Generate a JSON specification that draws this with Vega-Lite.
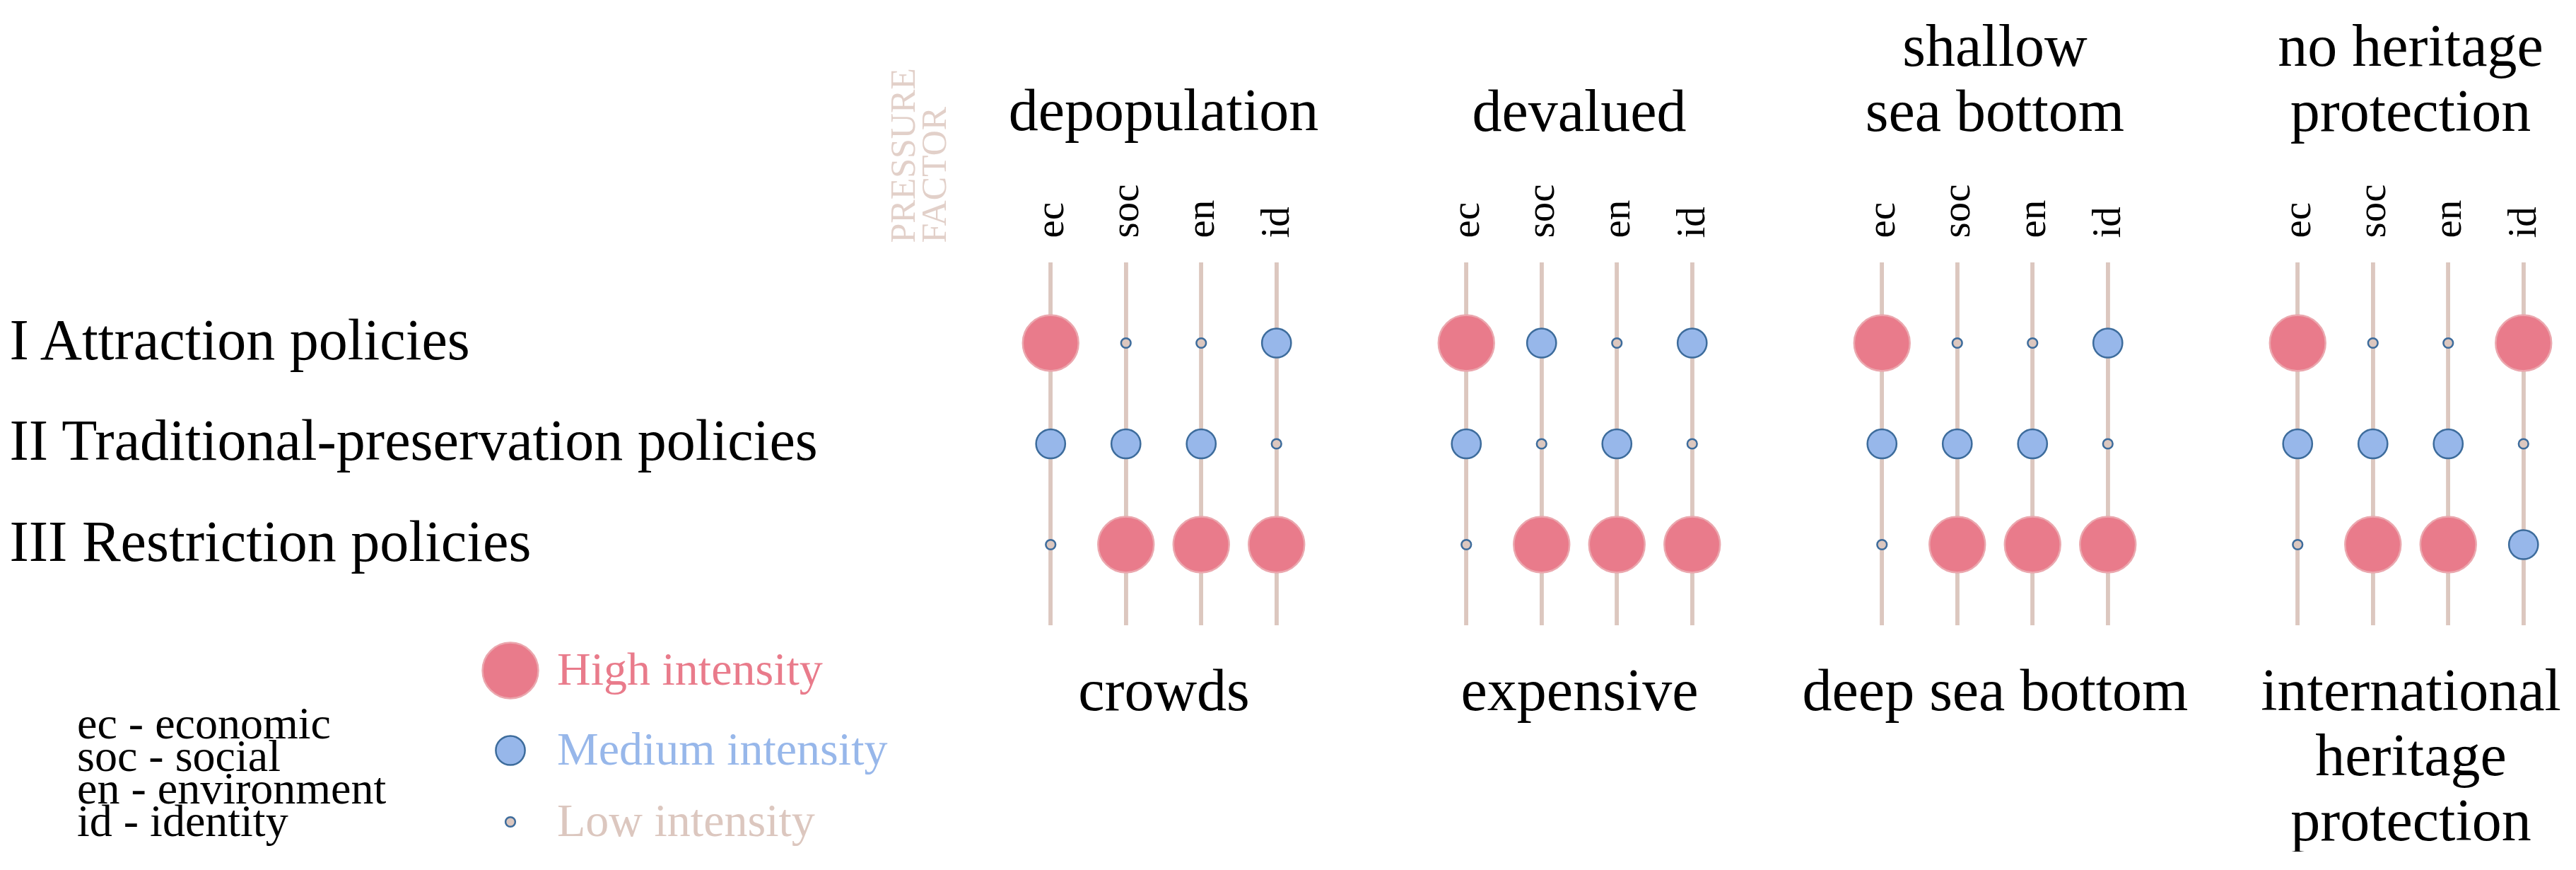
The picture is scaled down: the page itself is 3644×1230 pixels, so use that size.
{
  "$schema": "https://vega.github.io/schema/vega-lite/v6.json",
  "padding": {"left": 13, "top": 24, "right": 0, "bottom": 0},
  "background": "white",
  "config": {
    "view": {"stroke": null},
    "font": "Liberation Serif",
    "axis": {"grid": false, "ticks": false, "tickSize": 0, "domain": false, "labelFont": "Liberation Serif", "titleFont": "Liberation Serif", "labelColor": "#000000", "titleColor": "#000000", "titleFontWeight": "normal", "labelOverlap": false},
    "title": {"font": "Liberation Serif", "fontSize": 84, "fontWeight": "normal", "color": "#000000", "anchor": "middle", "baseline": "bottom", "lineHeight": 92, "offset": 57, "limit": 2000}
  },
  "datasets": {
    "dots": [
      {"group": "g1", "factor": "ec", "policy": "I Attraction policies", "intensity": "High intensity"},
      {"group": "g1", "factor": "soc", "policy": "I Attraction policies", "intensity": "Low intensity"},
      {"group": "g1", "factor": "en", "policy": "I Attraction policies", "intensity": "Low intensity"},
      {"group": "g1", "factor": "id", "policy": "I Attraction policies", "intensity": "Medium intensity"},
      {"group": "g1", "factor": "ec", "policy": "II Traditional-preservation policies", "intensity": "Medium intensity"},
      {"group": "g1", "factor": "soc", "policy": "II Traditional-preservation policies", "intensity": "Medium intensity"},
      {"group": "g1", "factor": "en", "policy": "II Traditional-preservation policies", "intensity": "Medium intensity"},
      {"group": "g1", "factor": "id", "policy": "II Traditional-preservation policies", "intensity": "Low intensity"},
      {"group": "g1", "factor": "ec", "policy": "III Restriction policies", "intensity": "Low intensity"},
      {"group": "g1", "factor": "soc", "policy": "III Restriction policies", "intensity": "High intensity"},
      {"group": "g1", "factor": "en", "policy": "III Restriction policies", "intensity": "High intensity"},
      {"group": "g1", "factor": "id", "policy": "III Restriction policies", "intensity": "High intensity"},
      {"group": "g2", "factor": "ec", "policy": "I Attraction policies", "intensity": "High intensity"},
      {"group": "g2", "factor": "soc", "policy": "I Attraction policies", "intensity": "Medium intensity"},
      {"group": "g2", "factor": "en", "policy": "I Attraction policies", "intensity": "Low intensity"},
      {"group": "g2", "factor": "id", "policy": "I Attraction policies", "intensity": "Medium intensity"},
      {"group": "g2", "factor": "ec", "policy": "II Traditional-preservation policies", "intensity": "Medium intensity"},
      {"group": "g2", "factor": "soc", "policy": "II Traditional-preservation policies", "intensity": "Low intensity"},
      {"group": "g2", "factor": "en", "policy": "II Traditional-preservation policies", "intensity": "Medium intensity"},
      {"group": "g2", "factor": "id", "policy": "II Traditional-preservation policies", "intensity": "Low intensity"},
      {"group": "g2", "factor": "ec", "policy": "III Restriction policies", "intensity": "Low intensity"},
      {"group": "g2", "factor": "soc", "policy": "III Restriction policies", "intensity": "High intensity"},
      {"group": "g2", "factor": "en", "policy": "III Restriction policies", "intensity": "High intensity"},
      {"group": "g2", "factor": "id", "policy": "III Restriction policies", "intensity": "High intensity"},
      {"group": "g3", "factor": "ec", "policy": "I Attraction policies", "intensity": "High intensity"},
      {"group": "g3", "factor": "soc", "policy": "I Attraction policies", "intensity": "Low intensity"},
      {"group": "g3", "factor": "en", "policy": "I Attraction policies", "intensity": "Low intensity"},
      {"group": "g3", "factor": "id", "policy": "I Attraction policies", "intensity": "Medium intensity"},
      {"group": "g3", "factor": "ec", "policy": "II Traditional-preservation policies", "intensity": "Medium intensity"},
      {"group": "g3", "factor": "soc", "policy": "II Traditional-preservation policies", "intensity": "Medium intensity"},
      {"group": "g3", "factor": "en", "policy": "II Traditional-preservation policies", "intensity": "Medium intensity"},
      {"group": "g3", "factor": "id", "policy": "II Traditional-preservation policies", "intensity": "Low intensity"},
      {"group": "g3", "factor": "ec", "policy": "III Restriction policies", "intensity": "Low intensity"},
      {"group": "g3", "factor": "soc", "policy": "III Restriction policies", "intensity": "High intensity"},
      {"group": "g3", "factor": "en", "policy": "III Restriction policies", "intensity": "High intensity"},
      {"group": "g3", "factor": "id", "policy": "III Restriction policies", "intensity": "High intensity"},
      {"group": "g4", "factor": "ec", "policy": "I Attraction policies", "intensity": "High intensity"},
      {"group": "g4", "factor": "soc", "policy": "I Attraction policies", "intensity": "Low intensity"},
      {"group": "g4", "factor": "en", "policy": "I Attraction policies", "intensity": "Low intensity"},
      {"group": "g4", "factor": "id", "policy": "I Attraction policies", "intensity": "High intensity"},
      {"group": "g4", "factor": "ec", "policy": "II Traditional-preservation policies", "intensity": "Medium intensity"},
      {"group": "g4", "factor": "soc", "policy": "II Traditional-preservation policies", "intensity": "Medium intensity"},
      {"group": "g4", "factor": "en", "policy": "II Traditional-preservation policies", "intensity": "Medium intensity"},
      {"group": "g4", "factor": "id", "policy": "II Traditional-preservation policies", "intensity": "Low intensity"},
      {"group": "g4", "factor": "ec", "policy": "III Restriction policies", "intensity": "Low intensity"},
      {"group": "g4", "factor": "soc", "policy": "III Restriction policies", "intensity": "High intensity"},
      {"group": "g4", "factor": "en", "policy": "III Restriction policies", "intensity": "High intensity"},
      {"group": "g4", "factor": "id", "policy": "III Restriction policies", "intensity": "Medium intensity"}
    ]
  },
  "spacing": 162,
  "bounds": "flush",
  "hconcat": [
    {
      "title": {"text": ["", "depopulation"], "dy": 163},
      "width": 426, "height": 513,
      "data": {"name": "dots"},
      "transform": [{"filter": "datum.group == 'g1'"}],
      "layer": [
        {"mark": {"type": "rule", "color": "#dcc7bf", "strokeWidth": 5.5},
         "encoding": {"x": {"field": "factor", "type": "nominal", "sort": ["ec", "soc", "en", "id"], "scale": {"type": "point", "padding": 0.5},
           "axis": {"orient": "top", "labelAngle": 270, "labelFontSize": 57, "labelPadding": 35, "labelLimit": 1000,
             "title": ["PRESSURE", "FACTOR"], "titleAngle": 270, "titleX": -155, "titleY": -28, "titleAlign": "left", "titleBaseline": "middle", "titleFontSize": 50, "titleLineHeight": 44, "titleColor": "#e2d0c9", "titleLimit": 1000}}}},
        {"mark": {"type": "point", "shape": "circle", "filled": true, "opacity": 1, "strokeWidth": 2.5},
         "encoding": {
           "x": {"field": "factor", "type": "nominal", "sort": ["ec", "soc", "en", "id"], "scale": {"type": "point", "padding": 0.5},
             "axis": {"orient": "bottom", "labels": false, "title": ["crowds"], "titleFontSize": 84, "titlePadding": 119, "titleBaseline": "alphabetic", "titleLineHeight": 92, "titleLimit": 2000}},
           "y": {"field": "policy", "type": "nominal", "sort": ["I Attraction policies", "II Traditional-preservation policies", "III Restriction policies"], "scale": {"type": "point", "padding": 0.8},
             "axis": {"orient": "left", "title": null, "labelAlign": "left", "labelPadding": 1420, "labelFontSize": 82, "labelBaseline": "alphabetic", "labelOffset": 22, "labelLimit": 2000}},
           "fill": {"field": "intensity", "type": "nominal", "scale": {"domain": ["High intensity", "Medium intensity", "Low intensity"], "range": ["#e97b8b", "#97b7ea", "#dcc7bf"]},
             "legend": {"orient": "none", "legendX": -1324, "legendY": 536, "title": ["ec - economic", "soc - social", "en - environment", "id - identity"], "titleOrient": "left", "titleFontSize": 64, "titleLineHeight": 46, "titleFontWeight": "normal", "titleColor": "#000000", "titleFont": "Liberation Serif", "titlePadding": 134, "titleAnchor": "end", "titleAlign": "left", "titleLimit": 2000, "labelFontSize": 66, "labelFont": "Liberation Serif", "labelLimit": 2000, "labelOffset": 25, "rowPadding": 35, "symbolStrokeWidth": 2.5, "padding": 0, "labelColor": {"expr": "datum.label == 'High intensity' ? '#e97b8b' : datum.label == 'Medium intensity' ? '#97b7ea' : '#dcc7bf'"}}},
           "stroke": {"field": "intensity", "type": "nominal", "scale": {"domain": ["High intensity", "Medium intensity", "Low intensity"], "range": ["#eba7ae", "#3d6c9c", "#3d6c9c"]},
             "legend": {"orient": "none", "legendX": -1324, "legendY": 536, "title": ["ec - economic", "soc - social", "en - environment", "id - identity"], "titleOrient": "left", "titleFontSize": 64, "titleLineHeight": 46, "titleFontWeight": "normal", "titleColor": "#000000", "titleFont": "Liberation Serif", "titlePadding": 134, "titleAnchor": "end", "titleAlign": "left", "titleLimit": 2000, "labelFontSize": 66, "labelFont": "Liberation Serif", "labelLimit": 2000, "labelOffset": 25, "rowPadding": 35, "symbolStrokeWidth": 2.5, "padding": 0, "labelColor": {"expr": "datum.label == 'High intensity' ? '#e97b8b' : datum.label == 'Medium intensity' ? '#97b7ea' : '#dcc7bf'"}}},
           "size": {"field": "intensity", "type": "nominal", "scale": {"type": "ordinal", "domain": ["High intensity", "Medium intensity", "Low intensity"], "range": [6221, 1698, 189]},
             "legend": {"orient": "none", "legendX": -1324, "legendY": 536, "title": ["ec - economic", "soc - social", "en - environment", "id - identity"], "titleOrient": "left", "titleFontSize": 64, "titleLineHeight": 46, "titleFontWeight": "normal", "titleColor": "#000000", "titleFont": "Liberation Serif", "titlePadding": 134, "titleAnchor": "end", "titleAlign": "left", "titleLimit": 2000, "labelFontSize": 66, "labelFont": "Liberation Serif", "labelLimit": 2000, "labelOffset": 25, "rowPadding": 35, "symbolStrokeWidth": 2.5, "padding": 0, "labelColor": {"expr": "datum.label == 'High intensity' ? '#e97b8b' : datum.label == 'Medium intensity' ? '#97b7ea' : '#dcc7bf'"}}}
         }}
      ],
      "resolve": {"axis": {"x": "independent"}}
    },
    {
      "title": {"text": ["", "devalued"]},
      "width": 426, "height": 513,
      "data": {"name": "dots"},
      "transform": [{"filter": "datum.group == 'g2'"}],
      "layer": [
        {"mark": {"type": "rule", "color": "#dcc7bf", "strokeWidth": 5.5},
         "encoding": {"x": {"field": "factor", "type": "nominal", "sort": ["ec", "soc", "en", "id"], "scale": {"type": "point", "padding": 0.5},
           "axis": {"orient": "top", "labelAngle": 270, "labelFontSize": 57, "labelPadding": 35, "labelLimit": 1000, "title": null}}}},
        {"mark": {"type": "point", "shape": "circle", "filled": true, "opacity": 1, "strokeWidth": 2.5},
         "encoding": {
           "x": {"field": "factor", "type": "nominal", "sort": ["ec", "soc", "en", "id"], "scale": {"type": "point", "padding": 0.5},
             "axis": {"orient": "bottom", "labels": false, "title": ["expensive"], "titleFontSize": 84, "titlePadding": 119, "titleBaseline": "alphabetic", "titleLineHeight": 92, "titleLimit": 2000}},
           "y": {"field": "policy", "type": "nominal", "sort": ["I Attraction policies", "II Traditional-preservation policies", "III Restriction policies"], "scale": {"type": "point", "padding": 0.8}, "axis": null},
           "fill": {"field": "intensity", "type": "nominal", "scale": {"domain": ["High intensity", "Medium intensity", "Low intensity"], "range": ["#e97b8b", "#97b7ea", "#dcc7bf"]}},
           "stroke": {"field": "intensity", "type": "nominal", "scale": {"domain": ["High intensity", "Medium intensity", "Low intensity"], "range": ["#eba7ae", "#3d6c9c", "#3d6c9c"]}},
           "size": {"field": "intensity", "type": "nominal", "scale": {"type": "ordinal", "domain": ["High intensity", "Medium intensity", "Low intensity"], "range": [6221, 1698, 189]}}
         }}
      ],
      "resolve": {"axis": {"x": "independent"}}
    },
    {
      "title": {"text": ["shallow", "sea bottom"]},
      "width": 426, "height": 513,
      "data": {"name": "dots"},
      "transform": [{"filter": "datum.group == 'g3'"}],
      "layer": [
        {"mark": {"type": "rule", "color": "#dcc7bf", "strokeWidth": 5.5},
         "encoding": {"x": {"field": "factor", "type": "nominal", "sort": ["ec", "soc", "en", "id"], "scale": {"type": "point", "padding": 0.5},
           "axis": {"orient": "top", "labelAngle": 270, "labelFontSize": 57, "labelPadding": 35, "labelLimit": 1000, "title": null}}}},
        {"mark": {"type": "point", "shape": "circle", "filled": true, "opacity": 1, "strokeWidth": 2.5},
         "encoding": {
           "x": {"field": "factor", "type": "nominal", "sort": ["ec", "soc", "en", "id"], "scale": {"type": "point", "padding": 0.5},
             "axis": {"orient": "bottom", "labels": false, "title": ["deep sea bottom"], "titleFontSize": 84, "titlePadding": 119, "titleBaseline": "alphabetic", "titleLineHeight": 92, "titleLimit": 2000}},
           "y": {"field": "policy", "type": "nominal", "sort": ["I Attraction policies", "II Traditional-preservation policies", "III Restriction policies"], "scale": {"type": "point", "padding": 0.8}, "axis": null},
           "fill": {"field": "intensity", "type": "nominal", "scale": {"domain": ["High intensity", "Medium intensity", "Low intensity"], "range": ["#e97b8b", "#97b7ea", "#dcc7bf"]}},
           "stroke": {"field": "intensity", "type": "nominal", "scale": {"domain": ["High intensity", "Medium intensity", "Low intensity"], "range": ["#eba7ae", "#3d6c9c", "#3d6c9c"]}},
           "size": {"field": "intensity", "type": "nominal", "scale": {"type": "ordinal", "domain": ["High intensity", "Medium intensity", "Low intensity"], "range": [6221, 1698, 189]}}
         }}
      ],
      "resolve": {"axis": {"x": "independent"}}
    },
    {
      "title": {"text": ["no heritage", "protection"]},
      "width": 426, "height": 513,
      "data": {"name": "dots"},
      "transform": [{"filter": "datum.group == 'g4'"}],
      "layer": [
        {"mark": {"type": "rule", "color": "#dcc7bf", "strokeWidth": 5.5},
         "encoding": {"x": {"field": "factor", "type": "nominal", "sort": ["ec", "soc", "en", "id"], "scale": {"type": "point", "padding": 0.5},
           "axis": {"orient": "top", "labelAngle": 270, "labelFontSize": 57, "labelPadding": 35, "labelLimit": 1000, "title": null}}}},
        {"mark": {"type": "point", "shape": "circle", "filled": true, "opacity": 1, "strokeWidth": 2.5},
         "encoding": {
           "x": {"field": "factor", "type": "nominal", "sort": ["ec", "soc", "en", "id"], "scale": {"type": "point", "padding": 0.5},
             "axis": {"orient": "bottom", "labels": false, "title": ["international", "heritage", "protection"], "titleFontSize": 84, "titlePadding": 119, "titleBaseline": "alphabetic", "titleLineHeight": 92, "titleLimit": 2000}},
           "y": {"field": "policy", "type": "nominal", "sort": ["I Attraction policies", "II Traditional-preservation policies", "III Restriction policies"], "scale": {"type": "point", "padding": 0.8}, "axis": null},
           "fill": {"field": "intensity", "type": "nominal", "scale": {"domain": ["High intensity", "Medium intensity", "Low intensity"], "range": ["#e97b8b", "#97b7ea", "#dcc7bf"]}},
           "stroke": {"field": "intensity", "type": "nominal", "scale": {"domain": ["High intensity", "Medium intensity", "Low intensity"], "range": ["#eba7ae", "#3d6c9c", "#3d6c9c"]}},
           "size": {"field": "intensity", "type": "nominal", "scale": {"type": "ordinal", "domain": ["High intensity", "Medium intensity", "Low intensity"], "range": [6221, 1698, 189]}}
         }}
      ],
      "resolve": {"axis": {"x": "independent"}}
    }
  ]
}
